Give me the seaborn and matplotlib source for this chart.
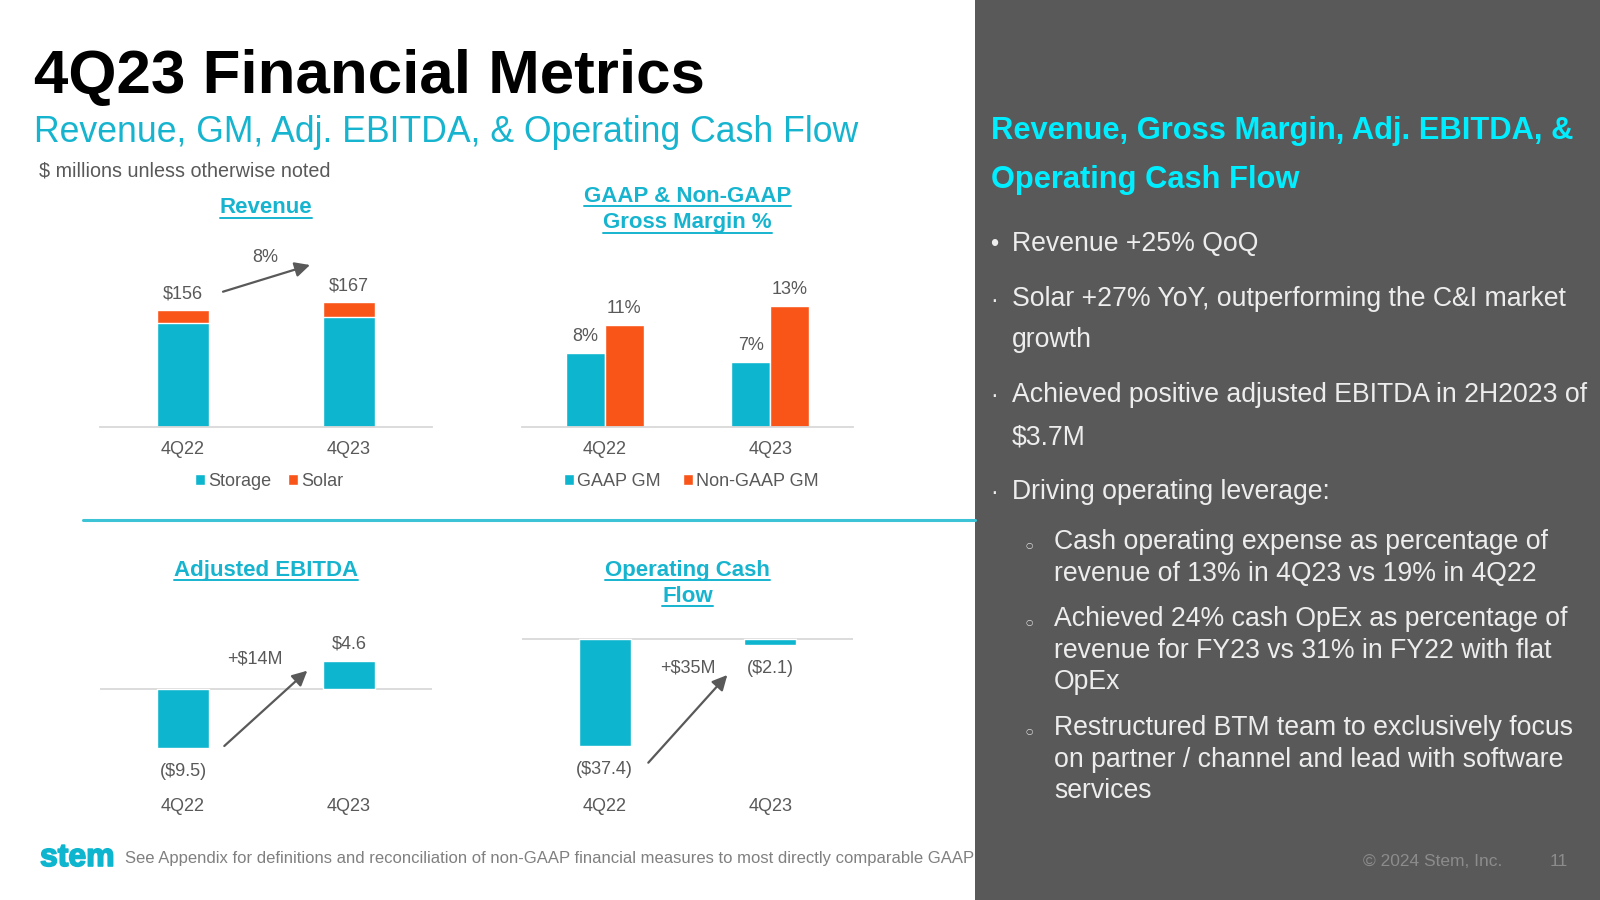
import numpy as np
import pandas as pd
import matplotlib
matplotlib.use("Agg")
import matplotlib.pyplot as plt
import seaborn as sns
from matplotlib.patches import Rectangle, Patch, FancyArrowPatch
from matplotlib.lines import Line2D
import matplotlib.patheffects as pe

# ---------------- data ----------------
quarters = ["4Q22", "4Q23"]
storage_rev = [139, 147]
solar_rev = [17, 20]
rev_series = ["Storage", "Solar"]
rev_change_label = "8%"

gm_series = ["GAAP GM", "Non-GAAP GM"]
gaap_gm = [8, 7]
nongaap_gm = [11, 13]

adj_ebitda = [-9.5, 4.6]
ebitda_change_label = "+$14M"

op_cash_flow = [-37.4, -2.1]
ocf_change_label = "+$35M"

# ---------------- style ----------------
sns.set_style("white")
plt.rcParams["font.family"] = ["Liberation Sans", "DejaVu Sans"]

CYAN = "#0DB5CE"
CYAN_TXT = "#17B4CF"
ORANGE = "#FA5519"
GRAY = "#595959"
AXIS = "#D9D9D9"
PANEL = "#595959"
BRIGHT = "#00EEFF"
PANEL_TXT = "#EDEDED"

W, H = 1600, 900
fig = plt.figure(figsize=(16, 9), dpi=100)
fig.patch.set_facecolor("white")


def fx(x):
    return x / W


def fy(y):
    return 1 - y / H


def add_ax(left, top, right, bottom):
    return fig.add_axes([fx(left), fy(bottom), (right - left) / W, (bottom - top) / H])


def T(x, y, s, **kw):
    kw.setdefault("va", "baseline")
    return fig.text(fx(x), fy(y), s, **kw)


def style(ax, spine, pad):
    ax.set_xlabel("")
    ax.set_ylabel("")
    ax.set_yticks([])
    ax.set_facecolor("none")
    for s in ax.spines.values():
        s.set_visible(False)
    if spine:
        ax.spines["bottom"].set_visible(True)
        ax.spines["bottom"].set_color(AXIS)
        ax.spines["bottom"].set_linewidth(1.3)
    else:
        ax.axhline(0, color=AXIS, lw=1.3, zorder=0)
    ax.tick_params(axis="x", length=0, pad=pad, labelsize=13, labelcolor=GRAY)
    ax.set_xlim(-0.5, 1.5)


def money(v):
    return f"${v:.1f}" if v >= 0 else f"(${abs(v):.1f})"


def label_bars(ax, container, values, fmt):
    """Value labels: small gap above positive bars, larger gap below negative ones."""
    pos = [fmt(v) if v >= 0 else "" for v in values]
    neg = [fmt(v) if v < 0 else "" for v in values]
    if any(pos):
        ax.bar_label(container, labels=pos, padding=5.8, fontsize=13, color=GRAY)
    if any(neg):
        ax.bar_label(container, labels=neg, padding=10.5, fontsize=13, color=GRAY)


def arrow(x0, y0, x1, y1):
    fig.add_artist(FancyArrowPatch(posA=(fx(x0), fy(y0)), posB=(fx(x1), fy(y1)),
                                   transform=fig.transFigure,
                                   arrowstyle="-|>,head_length=9,head_width=4.5",
                                   lw=1.6, color=GRAY, shrinkA=0, shrinkB=0))


# right panel background
fig.add_artist(Rectangle((fx(975), 0), 1 - fx(975), 1, transform=fig.transFigure,
                         facecolor=PANEL, edgecolor="none", zorder=-5))

# ---------------- titles ----------------
T(34, 93.5, "4Q23 Financial Metrics", fontsize=44.6, fontweight="bold", color="black")
T(34, 142.5, "Revenue, GM, Adj. EBITDA, & Operating Cash Flow", fontsize=25.7, color=CYAN_TXT)
T(39, 176.5, "$ millions unless otherwise noted", fontsize=14.2, color=GRAY)

chart_titles = [
    (266, 213.3, "Revenue"),
    (687.7, 201.7, "GAAP & Non-GAAP"),
    (687.7, 228.3, "Gross Margin %"),
    (266, 576, "Adjusted EBITDA"),
    (687.7, 576, "Operating Cash"),
    (687.7, 601.7, "Flow"),
]
title_objs = []
for x, y, s in chart_titles:
    t = T(x, y, s, fontsize=16, fontweight="bold", color=CYAN_TXT, ha="center")
    title_objs.append((t, y))

# divider
fig.add_artist(Line2D([fx(83), fx(975)], [fy(519.5), fy(519.5)], transform=fig.transFigure,
                      color="#3CC3D6", lw=2.2))

# ---------------- Revenue ----------------
ax = add_ax(100, 250, 432, 426.7)
totals = [s + o for s, o in zip(storage_rev, solar_rev)]
sns.barplot(x=quarters, y=totals, color=ORANGE, width=0.314, saturation=1, errorbar=None, ax=ax)
sns.barplot(x=quarters, y=storage_rev, color=CYAN, width=0.314, saturation=1, errorbar=None, ax=ax)
label_bars(ax, ax.containers[0], totals, lambda v: f"${v:.0f}")
ax.set_ylim(0, 237)
style(ax, True, 10.5)
fig.legend(handles=[Patch(facecolor=CYAN), Patch(facecolor=ORANGE)], labels=rev_series,
           loc="center", bbox_to_anchor=(fx(269), fy(481.7)), bbox_transform=fig.transFigure,
           ncol=2, frameon=False, fontsize=13, labelcolor=GRAY, handlelength=0.55,
           handleheight=0.55, handletextpad=0.2, columnspacing=0.9)
arrow(223, 291.7, 310, 265)
T(265.7, 262.4, rev_change_label, fontsize=13, color=GRAY, ha="center")

# ---------------- Gross margin ----------------
ax = add_ax(522, 250, 853, 426.7)
gm_df = pd.DataFrame({
    "quarter": quarters * 2,
    "series": [gm_series[0]] * len(quarters) + [gm_series[1]] * len(quarters),
    "value": gaap_gm + nongaap_gm,
})
sns.barplot(data=gm_df, x="quarter", y="value", hue="series", hue_order=gm_series,
            palette=[CYAN, ORANGE], width=0.474, gap=0, saturation=1, errorbar=None,
            legend=False, ax=ax)
for cont, vals in zip(ax.containers, [gaap_gm, nongaap_gm]):
    label_bars(ax, cont, vals, lambda v: f"{v:.0f}%")
ax.set_ylim(0, 19.1)
style(ax, True, 10.5)
fig.legend(handles=[Patch(facecolor=CYAN), Patch(facecolor=ORANGE)], labels=gm_series,
           loc="center", bbox_to_anchor=(fx(691.4), fy(481.7)), bbox_transform=fig.transFigure,
           ncol=2, frameon=False, fontsize=13, labelcolor=GRAY, handlelength=0.55,
           handleheight=0.55, handletextpad=0.2, columnspacing=1.2)

# ---------------- Adjusted EBITDA ----------------
ax = add_ax(100, 610, 432, 790)
sns.barplot(x=quarters, y=adj_ebitda, color=CYAN, width=0.314, saturation=1, errorbar=None, ax=ax)
label_bars(ax, ax.containers[0], adj_ebitda, money)
ax.set_ylim(-16.27, 12.81)
style(ax, False, 6)
arrow(224.3, 746, 307.3, 670.7)
T(255, 663.7, ebitda_change_label, fontsize=13, color=GRAY, ha="center")

# ---------------- Operating cash flow ----------------
ax = add_ax(522, 610, 853, 790)
sns.barplot(x=quarters, y=op_cash_flow, color=CYAN, width=0.314, saturation=1, errorbar=None, ax=ax)
label_bars(ax, ax.containers[0], op_cash_flow, money)
ax.set_ylim(-52.8, 10.14)
style(ax, False, 6)
arrow(648.3, 762.7, 727.3, 675)
T(688.3, 672.4, ocf_change_label, fontsize=13, color=GRAY, ha="center")

# ---------------- right panel text ----------------
T(991, 139, "Revenue, Gross Margin, Adj. EBITDA, &", fontsize=22.2, fontweight="bold", color=BRIGHT)
T(991, 188.3, "Operating Cash Flow", fontsize=22.2, fontweight="bold", color=BRIGHT)

main_lines = [
    (250.7, "Revenue +25% QoQ", True),
    (306.5, "Solar +27% YoY, outperforming the C&I market", True),
    (346.7, "growth", False),
    (401.7, "Achieved positive adjusted EBITDA in 2H2023 of", True),
    (444.0, "$3.7M", False),
    (499.3, "Driving operating leverage:", True),
]
for i, (y, s, bullet) in enumerate(main_lines):
    T(1012, y, s, fontsize=19.2, color=PANEL_TXT)
    if bullet:
        T(994, y, "•" if i == 0 else "·", fontsize=17, color=PANEL_TXT, ha="center")

sub_lines = [
    (549.3, "Cash operating expense as percentage of", True),
    (580.7, "revenue of 13% in 4Q23 vs 19% in 4Q22", False),
    (626.0, "Achieved 24% cash OpEx as percentage of", True),
    (657.7, "revenue for FY23 vs 31% in FY22 with flat", False),
    (689.0, "OpEx", False),
    (735.3, "Restructured BTM team to exclusively focus", True),
    (766.7, "on partner / channel and lead with software", False),
    (798.0, "services", False),
]
for y, s, bullet in sub_lines:
    T(1054, y, s, fontsize=19.2, color=PANEL_TXT)
    if bullet:
        T(1029, y - 4, "○", fontsize=6, color=PANEL_TXT, ha="center",
          family=["DejaVu Sans"], va="center")

# ---------------- footer ----------------
T(40, 866, "stem", fontsize=23, fontweight="bold", color=CYAN,
  path_effects=[pe.withStroke(linewidth=1.2, foreground=CYAN)])
T(125, 863.3, "See Appendix for definitions and reconciliation of non-GAAP financial measures "
              "to most directly comparable GAAP", fontsize=12, color="#808080")
T(1362.7, 866, "© 2024 Stem, Inc.", fontsize=12.5, color="#8C8C8C")
T(1549.3, 866, "11", fontsize=12.5, color="#8C8C8C")

# ---------------- underline chart titles ----------------
fig.canvas.draw()
renderer = fig.canvas.get_renderer()
for t, y in title_objs:
    bb = t.get_window_extent(renderer)
    yy = fy(y + 4.2)
    fig.add_artist(Line2D([bb.x0 / W, bb.x1 / W], [yy, yy], transform=fig.transFigure,
                          color=CYAN_TXT, lw=1.4))

fig.savefig("out.png", dpi=100)
